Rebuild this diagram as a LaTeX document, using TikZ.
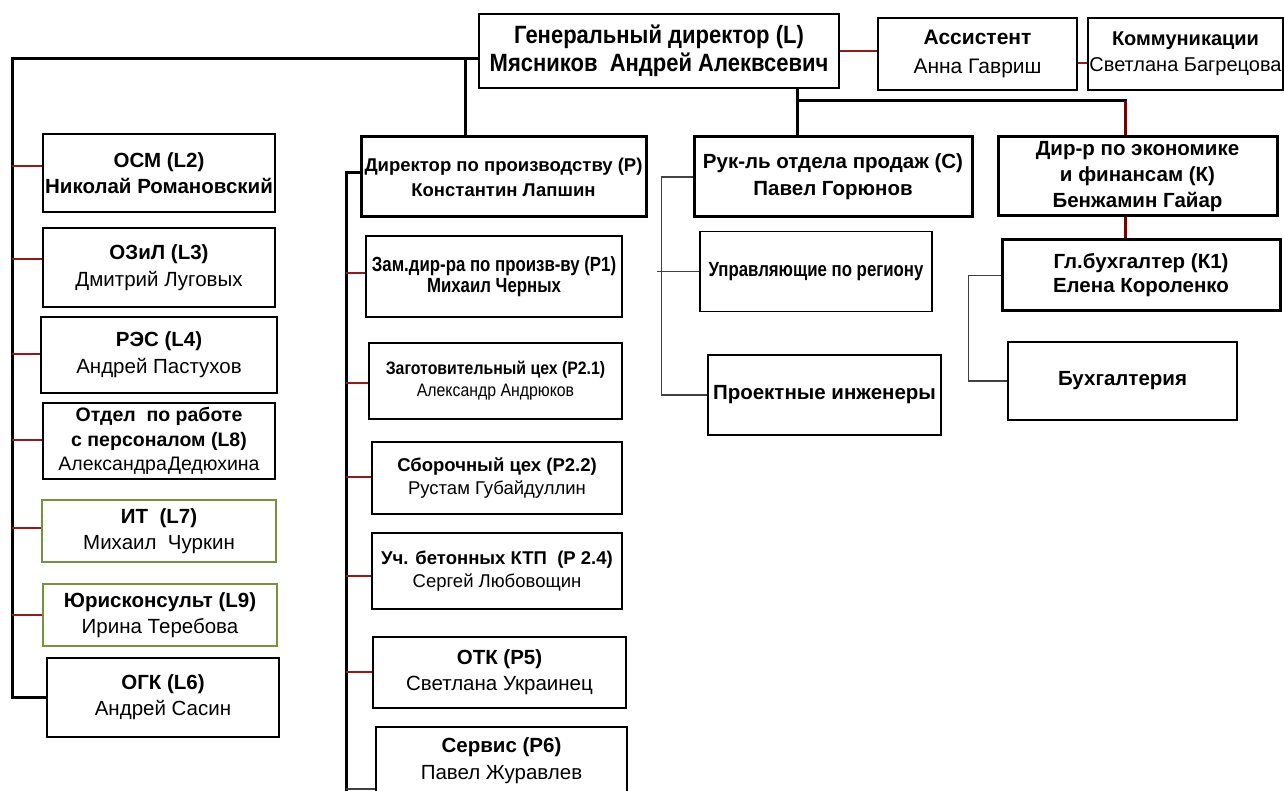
\documentclass[tikz,border=0pt]{standalone}
\usepackage{fontspec}
\setmainfont{Liberation Sans}
\newfontfamily\narrowfont{Liberation Sans}[FakeStretch=0.88]
\newfontfamily\tightfont{Liberation Sans}[FakeStretch=0.82]
\usetikzlibrary{positioning}

\definecolor{linkred}{RGB}{150,25,25}
\definecolor{darkred}{RGB}{120,0,0}
\definecolor{olivebox}{RGB}{118,146,60}

\begin{document}
\begin{tikzpicture}[x=1pt, y=-1pt,
        box/.style={draw, line width=1.5pt, fill=white, align=center, inner sep=0pt},
        headbox/.style={box, line width=3pt},
        greenbox/.style={box, draw=olivebox},
        fs/.style 2 args={font=\fontsize{#1}{#2}\selectfont},
        bfs/.style 2 args={font=\fontsize{#1}{#2}\selectfont\bfseries},
        trunk/.style={line width=3pt},
        redlink/.style={draw=linkred, line width=2pt},
        thinlink/.style={draw=black!75, line width=1.5pt}]
            \useasboundingbox (0,0) rectangle (1284,791);

            % top row
            \node[box, bfs={25}{28}, minimum width=360pt, minimum height=74pt] (gendir) at (659,51) {\narrowfont Генеральный директор (L)\\\narrowfont Мясников~~Андрей Алеквсевич};
            \node[box, fs={21}{29}, minimum width=199pt, minimum height=72pt] (assist) [right=37.5pt of gendir, yshift=-3pt] {{\bfseries Ассистент}\\Анна Гавриш};
            \node[box, fs={20}{26}, minimum width=195pt, minimum height=72pt] (komm) [right=9.5pt of assist] {{\bfseries Коммуникации}\\Светлана Багрецова};

            % left column
            \node[box, bfs={20.5}{26}, minimum width=232pt, minimum height=78pt] (osm) at (159,173) {ОСМ (L2)\\Николай Романовский};
            \node[box, fs={20.5}{27}, minimum width=232pt, minimum height=79pt] (ozil) [below=14.5pt of osm] {{\bfseries ОЗиЛ (L3)}\\Дмитрий Луговых};
            \node[box, fs={20.5}{27}, minimum width=236pt, minimum height=76pt] (res) [below=8.5pt of ozil] {{\bfseries РЭС (L4)}\\Андрей Пастухов};
            \node[box, fs={19.5}{24.5}, minimum width=232pt, minimum height=76pt] (kadry) [below=8.5pt of res] {{\bfseries Отдел~~по работе}\\{\bfseries с персоналом (L8)}\\Александра\hspace{1pt}Дедюхина};
            \node[greenbox, fs={20.5}{26}, minimum width=234pt, minimum height=62pt] (it) [below=19.5pt of kadry] {{\bfseries ИТ~~(L7)}\\Михаил~~Чуркин};
            \node[greenbox, fs={20.5}{26}, minimum width=234pt, minimum height=62pt] (jur) [below=20.5pt of it, xshift=1pt] {{\bfseries Юрисконсульт (L9)}\\Ирина Теребова};
            \node[box, fs={20.5}{26}, minimum width=232pt, minimum height=79pt] (ogk) [below=10.5pt of jur, xshift=3pt] {{\bfseries ОГК (L6)}\\Андрей Сасин};

            % production
            \node[headbox, bfs={18.5}{25}, minimum width=285pt, minimum height=80pt] (proizv) at (503.5,177) {Директор по производству (Р)\\Константин Лапшин};
            \node[box, bfs={20.5}{21}, minimum width=256pt, minimum height=81pt] (zam) at (494,276.5) {\tightfont Зам.дир-ра по произв-ву (Р1)\\\tightfont Михаил Черных};
            \node[box, fs={18}{22}, minimum width=253pt, minimum height=76pt] (zagot) [below=24.5pt of zam, xshift=1.5pt] {{\narrowfont\bfseries Заготовительный цех (Р2.1)}\\{\narrowfont Александр Андрюков}};
            \node[box, fs={18.5}{23}, minimum width=250pt, minimum height=72pt] (sborka) [below=21.5pt of zagot, xshift=1.5pt] {{\bfseries Сборочный цех (Р2.2)}\\Рустам Губайдуллин};
            \node[box, fs={18.5}{23}, minimum width=250pt, minimum height=76pt] (beton) [below=17.5pt of sborka] {{\bfseries Уч. бетонных КТП~~(Р 2.4)}\\Сергей Любовощин};
            \node[box, fs={20.5}{26}, minimum width=253pt, minimum height=71pt] (otk) [below=26.5pt of beton, xshift=2.5pt] {{\bfseries ОТК (Р5)}\\Светлана Украинец};
            \node[box, fs={20.5}{27}, minimum width=251pt, minimum height=68pt] (servis) [below=17.5pt of otk, xshift=2pt] {{\bfseries Сервис (Р6)}\\Павел Журавлев};

            % sales
            \node[headbox, bfs={20.5}{27}, minimum width=278pt, minimum height=80pt] (prodazhi) at (833,177) {Рук-ль отдела продаж (С)\\Павел Горюнов};
            \node[box, bfs={20.5}{22}, minimum width=232pt, minimum height=80pt] (regiony) [below=12.5pt of prodazhi, xshift=-17pt] {\tightfont Управляющие по региону};
            \node[box, bfs={20.5}{26}, minimum width=233pt, minimum height=80pt] (inzhenery) [below=41.5pt of regiony, xshift=8.5pt] {Проектные инженеры};

            % economy
            \node[headbox, bfs={20.5}{26}, minimum width=279pt, minimum height=79pt] (econ) at (1137.5,176.5) {Дир-р по экономике\\и финансам (К)\\Бенжамин Гайар};
            \node[headbox, bfs={20.5}{24}, minimum width=278pt, minimum height=71pt] (glbuh) [below=21pt of econ, xshift=3.5pt] {Гл.бухгалтер (К1)\\Елена Короленко};
            \node[box, bfs={20.5}{26}, minimum width=229pt, minimum height=78pt] (buh) [below=28.5pt of glbuh, xshift=-18.5pt] {Бухгалтерия};

            \coordinate (ltop) at (12,59);
            \coordinate (pbr) at (465,59);
            \coordinate (pspine) at (346,173);
            \coordinate (pend) at (346,800);
            \coordinate (sbr) at (797,101);
            \coordinate (ebr) at (1125,101);

            \draw[trunk] (ltop -| gendir.west) -- (ltop) |- (ogk.west);
            \draw[trunk] (pbr) -- (pbr |- proizv.north);
            \foreach \n/\dy in {osm/7, ozil/8, res/1, kadry/1, it/3, jur/0}
                \draw[redlink] ([yshift=\dy pt]\n.west) -- ([yshift=\dy pt]\n.west -| ltop);

            \draw[trunk] (pspine -| proizv.west) -- (pspine) -- (pend);
            \foreach \n/\dy in {zam/3, zagot/-2, sborka/1, beton/-5, otk/1}
                \draw[redlink] ([yshift=\dy pt]\n.west) -- ([yshift=\dy pt]\n.west -| pspine);
            \draw[thinlink] ([yshift=7pt]servis.south west) -- ([yshift=7pt]servis.south west -| pspine);

            \draw[trunk] (sbr |- gendir.south) -- (sbr |- prodazhi.north);
            \draw[trunk] (sbr) -- ([xshift=1.5pt]ebr);
            \draw[trunk, draw=darkred] (ebr) -- (ebr |- econ.north);
            \draw[trunk, draw=darkred] (econ.south -| ebr) -- (glbuh.north -| ebr);

            \draw[thinlink] (prodazhi.west) -- ++(-31,0) |- (inzhenery.west);
            \draw[thinlink] (regiony.west) -- ++(-42,0);
            \draw[thinlink] (glbuh.west) -- ++(-32,0) |- (buh.west);

            \draw[redlink] (gendir.east) -- (gendir.east -| assist.west);
            \draw[redlink] ([yshift=-9pt]assist.east) -- ([yshift=-9pt]assist.east -| komm.west);
        \end{tikzpicture}
\end{document}
